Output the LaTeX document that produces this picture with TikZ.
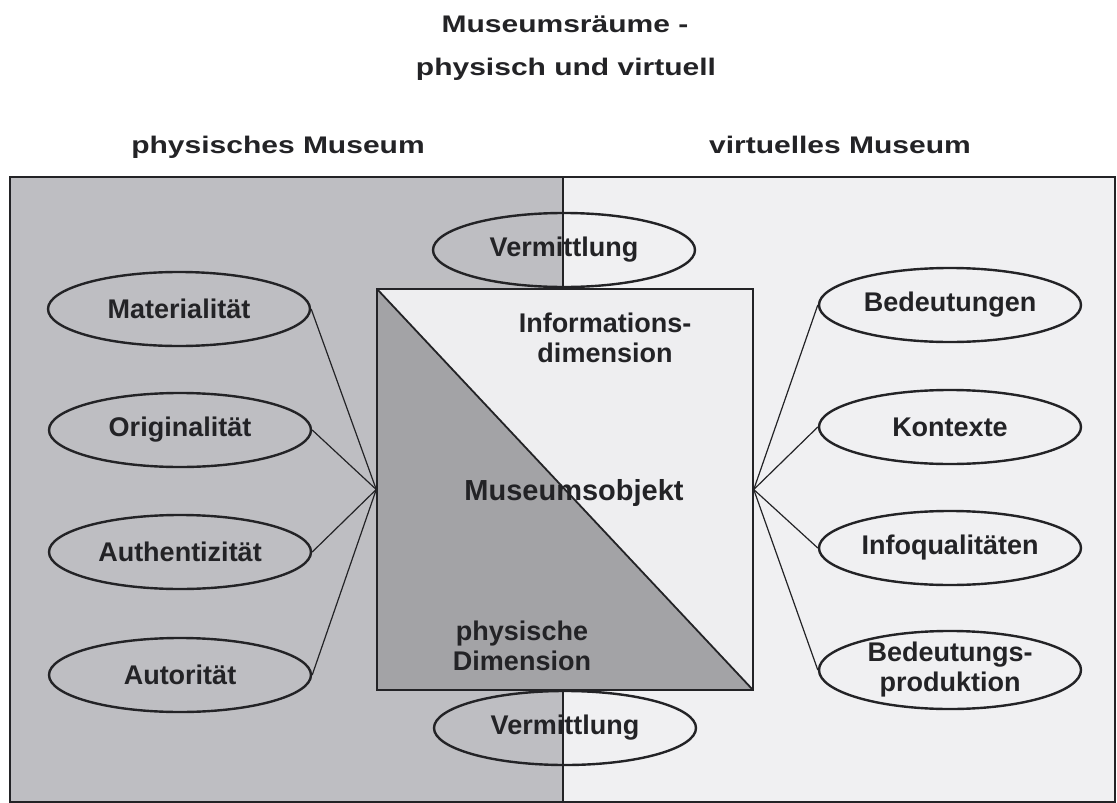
\documentclass[tikz,border=0pt]{standalone}
\usepackage{fontspec}
\setmainfont{Liberation Sans}
\usepackage{graphicx}
\usetikzlibrary{shapes.geometric}

\definecolor{physbg}{RGB}{190,190,194}
\definecolor{virtbg}{RGB}{240,240,242}
\definecolor{dimdark}{RGB}{163,163,166}
\definecolor{diminfo}{RGB}{238,238,240}
\definecolor{ink}{RGB}{35,35,38}

\begin{document}
\begin{tikzpicture}[x=1pt, y=-1pt,
  lbl/.style={font=\fontsize{27}{30}\selectfont\bfseries, text=ink},
  facet/.style={ellipse, draw=ink, line width=2.4pt, minimum width=262pt,
                minimum height=74pt, inner sep=0pt, lbl, align=center},
  link/.style={draw=ink, line width=1.2pt},
  head/.style={font=\fontsize{24}{28}\selectfont\bfseries, text=ink, anchor=base},
  inlbl/.style={lbl, align=center},
]
% canvas
\useasboundingbox (0,0) rectangle (1117,803);
\fill[white] (0,0) rectangle (1117,803);

% the two museum spaces
\fill[physbg] (10,177) rectangle (563,802);
\fill[virtbg] (563,177) rectangle (1115,802);
\draw[ink, line width=1.4pt] (10,177) rectangle (1115,802);
\coordinate (dtop) at (563,177);
\coordinate (dbot) at (563,802);
\draw[ink, line width=1.2pt] (dtop) -- (dbot);

% titles
\node[head] (t1) at (565,32) {\scalebox{1.25}[1]{Museumsräume -}};
\node[head] (t2) at (566,75) {\scalebox{1.25}[1]{physisch und virtuell}};
\node[head] (hphys) at (278,153) {\scalebox{1.25}[1]{physisches Museum}};
\node[head] (hvirt) at (840,153) {\scalebox{1.25}[1]{virtuelles Museum}};

% the museum object, split into its two dimensions
\node[draw=ink, line width=1.5pt, minimum width=376pt, minimum height=401pt,
      inner sep=0pt,
      path picture={
        \fill[diminfo] (path picture bounding box.north west) rectangle
                       (path picture bounding box.south east);
        \fill[dimdark] (path picture bounding box.north west) --
                       (path picture bounding box.south east) --
                       (path picture bounding box.south west) -- cycle;
        \draw[ink, line width=1.8pt] (path picture bounding box.north west) --
                       (path picture bounding box.south east);
      }] (obj) at (565,489.5) {};
\node[inlbl] (info) at (605,337.6) {\fontsize{27}{31}\selectfont Informations-\\dimension};
\node[inlbl, font=\fontsize{29}{32}\selectfont\bfseries, anchor=base] (objlbl) at (574,500) {Museumsobjekt};
\node[inlbl] (physdim) at (522,646) {\fontsize{27}{35}\selectfont physische\\Dimension};

% physical qualities
\node[facet] (mat) at (179,309) {Materialität};
\node[facet] (ori) at (180,430) {Originalität};
\node[facet] (aut) at (180,552) {Authentizität};
\node[facet] (autor) at (180,675) {Autorität};

% virtual qualities
\node[facet] (bed) at (950,305) {Bedeutungen};
\node[facet] (kon) at (950,427) {Kontexte};
\node[facet] (inf) at (950,548) {Infoqualitäten};
\node[facet] (bpr) at (950,670) {Bedeutungs-\\produktion};

% mediation on both sides
\node[facet] (vup) at (564,250) {Vermittlung};
\node[facet] (vdn) at (565,728) {Vermittlung};

% connectors
\foreach \n in {mat,ori,aut,autor}
  \draw[link] (\n.east) -- (obj.west);
\foreach \n in {bed,kon,inf,bpr}
  \draw[link] (\n.west) -- (obj.east);
\end{tikzpicture}
\end{document}
